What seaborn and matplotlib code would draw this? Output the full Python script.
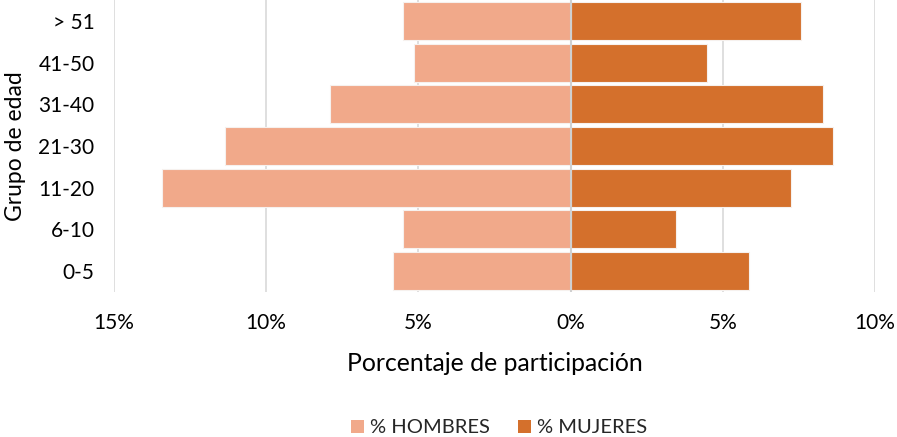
import matplotlib
matplotlib.use("Agg")
import matplotlib.pyplot as plt
import seaborn as sns
import pandas as pd
from matplotlib.patches import Patch

groups = ["> 51", "41-50", "31-40", "21-30", "11-20", "6-10", "0-5"]
hombres = [5.49, 5.14, 7.89, 11.34, 13.41, 5.49, 5.82]
mujeres = [7.58, 4.48, 8.28, 8.62, 7.24, 3.45, 5.87]
series = ["% HOMBRES", "% MUJERES"]
xticks = [-15, -10, -5, 0, 5, 10]
xticklabels = ["15%", "10%", "5%", "0%", "5%", "10%"]

c_h = "#F1A98A"
c_m = "#D4702C"

sns.set_theme(style="white")
plt.rcParams["font.family"] = ["Lato", "DejaVu Sans"]

df = pd.DataFrame({
    "grupo": groups * 2,
    "valor": [-v for v in hombres] + mujeres,
    "serie": [series[0]] * len(groups) + [series[1]] * len(groups),
})

fig = plt.figure(figsize=(8.97, 4.37), dpi=100)
ax = fig.add_axes([0.127, 0.332, 0.8485, 0.668])

sns.barplot(data=df, x="valor", y="grupo", hue="serie", order=groups,
            hue_order=series, palette=[c_h, c_m], saturation=1, dodge=False,
            width=0.91, orient="h", edgecolor="#F6F1EE", linewidth=0.8,
            legend=False, ax=ax, zorder=2)

ax.set_xlim(-15, 10)
ax.set_ylim(6.5, -0.5)
ax.set_xticks(xticks)
ax.set_xticklabels(xticklabels)
ax.grid(axis="x", color="#D9D9D9", linewidth=1.2, zorder=0)
ax.set_axisbelow(True)
ax.axvline(0, color="#D0D0D0", linewidth=1.5, zorder=3)
for s in ax.spines.values():
    s.set_visible(False)
ax.tick_params(axis="x", length=0, pad=15, labelsize=15, labelcolor="#000000")
ax.tick_params(axis="y", length=0, pad=14, labelsize=15, labelcolor="#000000")
ax.set_xlabel("Porcentaje de participación", fontsize=17.8, labelpad=14, color="#000000")
ax.set_ylabel("Grupo de edad", fontsize=16.5, labelpad=9, color="#000000")

handles = [Patch(facecolor=c_h, edgecolor="none"), Patch(facecolor=c_m, edgecolor="none")]
fig.legend(handles, series, loc="center", bbox_to_anchor=(0.556, 0.021), ncol=2,
           frameon=False, fontsize=14.5, handlelength=0.65, handleheight=0.65,
           handletextpad=0.3, columnspacing=1.4, borderpad=0)

fig.savefig("out.png", dpi=100)
